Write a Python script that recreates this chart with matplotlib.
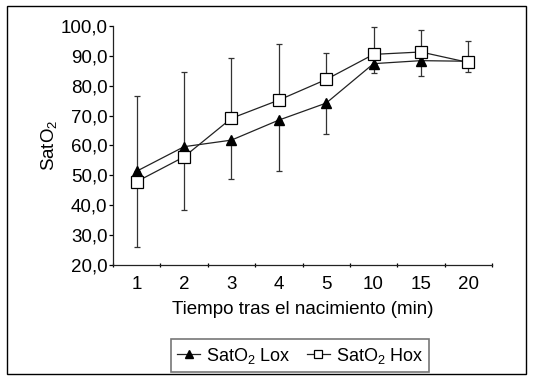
import matplotlib
matplotlib.use("Agg")
import matplotlib.pyplot as plt
from matplotlib.patches import Rectangle

plt.rcParams['font.family'] = ['Liberation Sans', 'DejaVu Sans']
plt.rcParams['mathtext.fontset'] = 'custom'
plt.rcParams['mathtext.rm'] = 'Liberation Sans'
plt.rcParams['mathtext.it'] = 'Liberation Sans'

categories = ['1', '2', '3', '4', '5', '10', '15', '20']
lox = [51.4, 59.6, 61.8, 68.5, 74.2, 87.4, 88.4, 88.2]
hox = [47.9, 56.2, 69.1, 75.2, 82.1, 90.5, 91.3, 87.8]
lox_err_low = [25.5, 21.3, 12.9, 17.0, 10.5, 3.0, 5.1, 3.5]
hox_err_up = [28.6, 28.5, 20.2, 18.7, 8.7, 9.2, 7.5, 7.3]
yticks = [20, 30, 40, 50, 60, 70, 80, 90, 100]
ytick_labels = ['20,0', '30,0', '40,0', '50,0', '60,0', '70,0', '80,0', '90,0', '100,0']

fig = plt.figure(figsize=(5.34, 3.82), dpi=100)
ax = fig.add_axes([113/534, 1-265/382, (492-113)/534, (265-26)/382])

x = list(range(1, len(categories) + 1))
zeros = [0] * len(x)

ax.errorbar(x, lox, yerr=[lox_err_low, zeros], fmt='none', ecolor='#333333',
            elinewidth=0.9, capsize=2, capthick=0.9, zorder=1)
ax.errorbar(x, hox, yerr=[zeros, hox_err_up], fmt='none', ecolor='#333333',
            elinewidth=0.9, capsize=2, capthick=0.9, zorder=1)
l1, = ax.plot(x, lox, color='#222222', lw=0.9, marker='^', ms=7,
              mfc='black', mec='black', zorder=2)
l2, = ax.plot(x, hox, color='#222222', lw=0.9, marker='s', ms=8,
              mfc='white', mec='black', mew=0.9, zorder=3)

ax.set_xlim(0.5, len(x) + 0.5)
ax.set_ylim(20, 100)
ax.set_yticks(yticks)
ax.set_yticklabels(ytick_labels)
ax.set_xticks(x)
ax.set_xticklabels(categories)
ax.set_xticks([i + 0.5 for i in range(0, len(x) + 1)], minor=True)
ax.tick_params(axis='x', which='major', length=0, labelsize=13.5, pad=8)
ax.tick_params(axis='x', which='minor', length=3, direction='inout', width=0.9)
ax.tick_params(axis='y', which='major', length=3, direction='out', width=0.9,
               labelsize=13.5, pad=1)
for s in ['top', 'right']:
    ax.spines[s].set_visible(False)
for s in ['left', 'bottom']:
    ax.spines[s].set_linewidth(0.9)
    ax.spines[s].set_color('#222222')

ax.set_xlabel('Tiempo tras el nacimiento (min)', fontsize=13.5, labelpad=6)
ax.set_ylabel('SatO$_2$', fontsize=13.5, labelpad=1)

leg = fig.legend([l1, l2], ['SatO$_2$ Lox', 'SatO$_2$ Hox'], loc='center',
                 bbox_to_anchor=(300/534, 1-355.5/382), ncol=2, fontsize=13,
                 frameon=True, fancybox=False, edgecolor='#555555',
                 handlelength=1.3, handletextpad=0.3, columnspacing=0.9,
                 borderpad=0.35, markerscale=0.8)
leg.get_frame().set_linewidth(1.2)

fig.patches.append(Rectangle((7/534, 1-374/382), (526-7)/534, (374-6)/382,
                             transform=fig.transFigure, fill=False,
                             edgecolor='black', lw=1.0))

fig.savefig('out.png', dpi=100)
